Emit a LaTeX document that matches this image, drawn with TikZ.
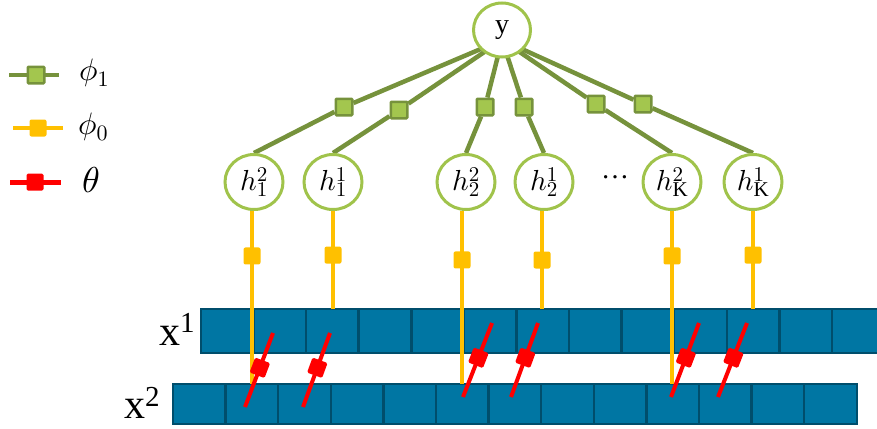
\documentclass[tikz,border=0pt]{standalone}
\usepackage{fontspec}
\setmainfont{Liberation Serif}
\DeclareFontShape{OML}{cmm}{m}{it}{<->cmmi10}{}
\DeclareFontShape{OT1}{cmr}{m}{n}{<->cmr10}{}
\DeclareMathSizes{29}{29}{21}{15}
\DeclareMathSizes{31}{31}{22}{16}
\usetikzlibrary{shapes.geometric}
\definecolor{gdark}{RGB}{118,146,60}
\definecolor{glight}{RGB}{163,198,78}
\definecolor{gcirc}{RGB}{160,195,75}
\definecolor{yel}{RGB}{255,192,0}
\definecolor{barfill}{RGB}{0,118,163}
\definecolor{barline}{RGB}{0,78,108}
\pgfdeclarelayer{bg}
\pgfsetlayers{bg,main}
\begin{document}
\begin{tikzpicture}[x=1pt,y=-1pt,
  gline/.style={draw=gdark,line width=4.5pt},
  gsq/.style={draw=gdark,fill=glight,line width=2.5pt,minimum size=16.5pt,inner sep=0pt,rounded corners=1pt},
  ysq/.style={fill=yel,minimum size=17pt,inner sep=0pt,rounded corners=2pt},
  yline/.style={draw=yel,line width=3.5pt},
  rline/.style={draw=red,line width=4pt},
  rsq/.style={fill=red,minimum size=16pt,inner sep=0pt,rounded corners=1.5pt},
  hnode/.style={ellipse,draw=gcirc,line width=3pt,fill=white,minimum width=58pt,minimum height=55pt,inner sep=0pt,font=\fontsize{29}{29}\selectfont},
  cell/.style={fill=barfill,draw=barline,line width=2.5pt},
  lbl/.style={inner sep=0pt,anchor=base west}]
\useasboundingbox (0,0) rectangle (877,428);

% bars
\begin{scope}
\clip (0,0) rectangle (877,428);
\foreach \k in {0,...,12} \draw[cell] ({201+52.58*\k},309) rectangle ++(52.58,44);
\end{scope}
\foreach \k in {0,...,12} \draw[cell] ({173+52.6*\k},384) rectangle ++(52.6,40);
\coordinate (barA) at (0,309);
\coordinate (barB) at (0,384);

% nodes
\node[hnode,minimum width=57pt,minimum height=54pt,font=\fontsize{28}{28}\selectfont] (y) at (502,30) {y};
\coordinate (yc) at (502,40);
\node[gsq] (s1) at (344,107) {};
\node[gsq] (s2) at (399,110) {};
\node[gsq] (s3) at (485,107) {};
\node[gsq] (s4) at (524,107) {};
\node[gsq] (s5) at (596,104) {};
\node[gsq] (s6) at (643,104) {};

\node[hnode] (h12) at (254,182) {$h^{2}_{1}$};
\node[hnode] (h11) at (333,182) {$h^{1}_{1}$};
\node[hnode] (h22) at (466,182) {$h^{2}_{2}$};
\node[hnode] (h21) at (544,182) {$h^{1}_{2}$};
\node[hnode] (hK2) at (672,182) {$h^{2}_{\mathrm{K}}$};
\node[hnode] (hK1) at (753,182) {$h^{1}_{\mathrm{K}}$};
\node[inner sep=0pt,font=\fontsize{28}{28}\selectfont] (dots) at (615,177) {\dots};

% green connectors
\begin{pgfonlayer}{bg}
\draw[gline] (yc) -- (s1) -- (h12.north);
\draw[gline] (yc) -- (s2) -- (h11.north);
\draw[gline] (yc) -- (s3) -- (h22.north);
\draw[gline] (yc) -- (s4) -- (h21.north);
\draw[gline] (yc) -- (s5) -- (hK2.north);
\draw[gline] (yc) -- (s6) -- (hK1.north);
\end{pgfonlayer}

% yellow connectors
\draw[yline] ([xshift=-2pt]h12.south) -- ([xshift=-2pt]h12.south |- barB) node[ysq,pos=0.26] (q1) {};
\draw[yline] (h11.south) -- (h11.south |- barA) node[ysq,pos=0.45] (q2) {};
\draw[yline] ([xshift=-4pt]h22.south) -- ([xshift=-4pt]h22.south |- barB) node[ysq,pos=0.283] (q3) {};
\draw[yline] ([xshift=-2pt]h21.south) -- ([xshift=-2pt]h21.south |- barA) node[ysq,pos=0.5] (q4) {};
\draw[yline] (hK2.south) -- (hK2.south |- barB) node[ysq,pos=0.26] (q5) {};
\draw[yline] (hK1.south) -- (hK1.south |- barA) node[ysq,pos=0.45] (q6) {};

% red
\foreach \i/\ax/\ay/\bx/\by in {1/273/333/245/407,2/330/333/303/407,3/492/323/463/397,4/538/323/511/397,5/699/323/671/397,6/747/323/718/397}{
  \coordinate (r\i a) at (\ax,\ay);
  \coordinate (r\i b) at (\bx,\by);
  \draw[rline] (r\i a) -- node[rsq,sloped,pos=0.47] (rs\i) {} (r\i b);
}

% labels x
\node[lbl] (x1) at (159,345) {\fontsize{42}{42}\selectfont x\raisebox{13pt}{\fontsize{29}{29}\selectfont 1}};
\node[lbl] (x2) at (124,418) {\fontsize{42}{42}\selectfont x\raisebox{12pt}{\fontsize{29}{29}\selectfont 2}};

% legend
\coordinate (la1) at (9,75); \coordinate (lb1) at (59,75);
\draw[gline] (la1) -- (lb1);
\node[gsq] (lg1) at (36,75) {};
\node[anchor=west,inner sep=0pt,font=\fontsize{31}{31}\selectfont] (lt1) at (79,73) {$\phi_1$};
\coordinate (la2) at (13,128); \coordinate (lb2) at (63,128);
\draw[yline,line width=4pt] (la2) -- (lb2);
\node[ysq] (lg2) at (38,128) {};
\node[anchor=west,inner sep=0pt,font=\fontsize{31}{31}\selectfont] (lt2) at (78,127) {$\phi_0$};
\coordinate (la3) at (10,182); \coordinate (lb3) at (61,182);
\draw[rline,line width=5pt] (la3) -- (lb3);
\node[rsq,minimum size=17pt] (lg3) at (35,182) {};
\node[anchor=west,inner sep=0pt,font=\fontsize{36}{36}\selectfont] (lt3) at (82,180) {$\theta$};
\end{tikzpicture}
\end{document}
